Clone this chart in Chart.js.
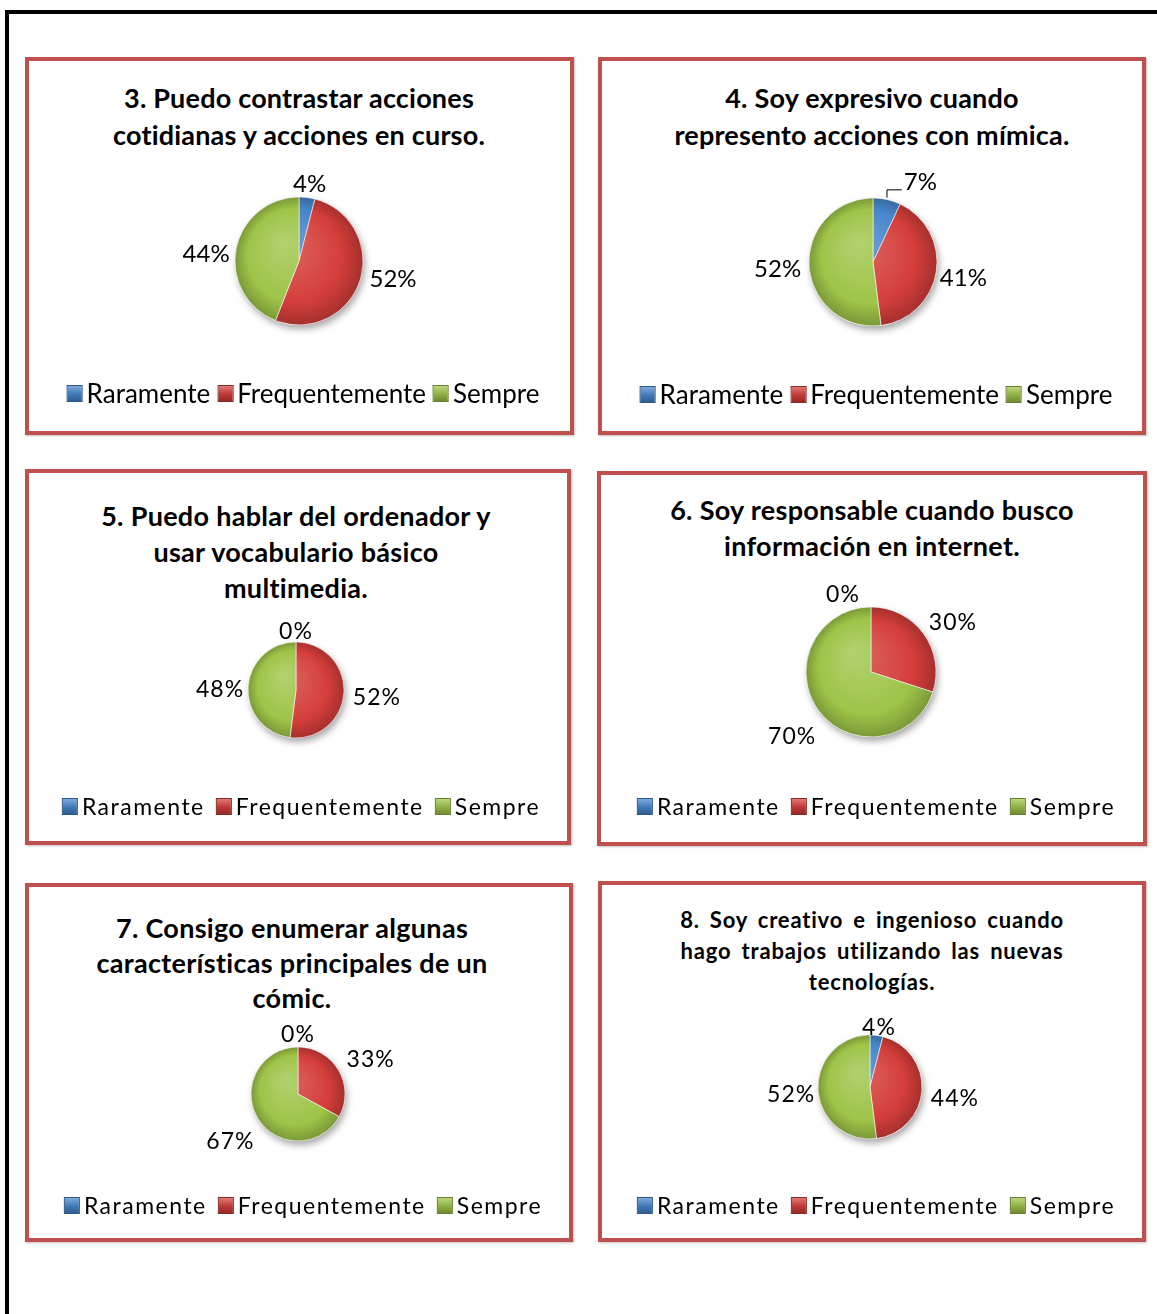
<!DOCTYPE html>
<html lang="es">
<head>
<meta charset="utf-8">
<title>Autoevaluación</title>
<script src="https://cdn.jsdelivr.net/npm/chart.js@4.4.1/dist/chart.umd.min.js"></script>
<style>
html,body{margin:0;padding:0;background:#fff;}
body{width:1157px;height:1314px;position:relative;overflow:hidden;font-family:Lato,"Open Sans",sans-serif;color:#000;}
#frame{position:absolute;left:5px;top:10px;width:1170px;height:1330px;border-top:4px solid #000;border-left:4px solid #000;}
.panel{position:absolute;box-sizing:border-box;border:4px solid #c0504d;background:#fff;box-shadow:1px 1px 2px rgba(0,0,0,.25);}
.ttl{position:absolute;transform:translateX(-50%);white-space:nowrap;text-align:center;font-weight:700;}
.leg{position:absolute;transform:translateX(-50%);display:flex;align-items:center;white-space:nowrap;height:30px;}
.leg .item{display:flex;align-items:center;}
.leg .box{display:inline-block;width:16px;height:17px;margin-right:4px;box-sizing:border-box;}
canvas{position:absolute;}
</style>
</head>
<body>
<div id="frame"></div>
<script>
// ---- datos ----
const categories = ['Raramente', 'Frequentemente', 'Sempre'];

const title3 = ['3. Puedo contrastar acciones', 'cotidianas y acciones en curso.'];
const title4 = ['4. Soy expresivo cuando', 'represento acciones con mímica.'];
const title5 = ['5. Puedo hablar del ordenador y', 'usar vocabulario básico', 'multimedia.'];
const title6 = ['6. Soy responsable cuando busco', 'información en internet.'];
const title7 = ['7. Consigo enumerar algunas', 'características principales de un', 'cómic.'];
const title8 = ['8. Soy creativo e ingenioso cuando', 'hago trabajos utilizando las nuevas', 'tecnologías.'];

const values3 = [4, 52, 44];
const values4 = [7, 41, 52];
const values5 = [0, 52, 48];
const values6 = [0, 30, 70];
const values7 = [0, 33, 67];
const values8 = [4, 44, 52];

// colores base de las porciones (azul, rojo, verde)
const sliceColors = [[70, 134, 204], [212, 62, 58], [158, 196, 72]];

// ---- disposición de cada recuadro ----
// nudge: desplazamiento [dx, dy, línea guía] de la etiqueta de cada porción
const panels = [
  { titles: title3, values: values3, box: [25, 57, 574, 435],
    title: { x: 299, y: 97, lh: 37, size: 27, ls: 0.2, ws: 0 },
    pie: { x: 299, y: 261, r: 64 },
    labels: { size: 24, ls: 0, gap: 4, nudge: [null, [7, -6], [-3, 8]] },
    legend: { x: 303, y: 393, size: 26, ls: 0, gap: 7 } },
  { titles: title4, values: values4, box: [598, 57, 1146, 435],
    title: { x: 872, y: 97, lh: 37, size: 27, ls: 0.2, ws: 0 },
    pie: { x: 873, y: 262, r: 64 },
    labels: { size: 24, ls: 0, gap: 4, nudge: [[29, -5, true], [0, 4], [-4, 2]] },
    legend: { x: 876, y: 394, size: 26, ls: 0, gap: 7 } },
  { titles: title5, values: values5, box: [25, 469, 571, 845],
    title: { x: 296, y: 516, lh: 36, size: 27, ls: 0.3, ws: 0 },
    pie: { x: 296, y: 690, r: 48 },
    labels: { size: 23, ls: 1, gap: 2, nudge: [null, [7, 4], [-2, 3]] },
    legend: { x: 301, y: 806, size: 23, ls: 1.5, gap: 11 } },
  { titles: title6, values: values6, box: [597, 471, 1147, 846],
    title: { x: 872, y: 510, lh: 36, size: 27, ls: 0.3, ws: 0 },
    pie: { x: 871, y: 672, r: 65 },
    labels: { size: 23, ls: 1, gap: 6, nudge: [[-28, 2], [5, -3], [-2, 18]] },
    legend: { x: 876, y: 806, size: 23, ls: 1.5, gap: 11 } },
  { titles: title7, values: values7, box: [25, 883, 573, 1242],
    title: { x: 292, y: 927, lh: 35, size: 27, ls: 0.3, ws: 0 },
    pie: { x: 298, y: 1094, r: 47 },
    labels: { size: 23, ls: 1, gap: 4, nudge: [null, [8, -4], [-3, 17]] },
    legend: { x: 303, y: 1205, size: 23, ls: 1.5, gap: 11 } },
  { titles: title8, values: values8, box: [598, 881, 1146, 1242],
    title: { x: 872, y: 919, lh: 31, size: 22, ls: 0.8, ws: 4 },
    pie: { x: 870, y: 1087, r: 52 },
    labels: { size: 23, ls: 1, gap: 3, nudge: [[0, 4], [6, 8], [0, 4]] },
    legend: { x: 876, y: 1205, size: 23, ls: 1.5, gap: 11 } }
];

const PAD = 80;

function rgb(c, k){
  // k > 0 aclara, k < 0 oscurece
  const f = v => Math.round(k >= 0 ? v + (255 - v) * k : v * (1 + k));
  return 'rgb(' + f(c[0]) + ',' + f(c[1]) + ',' + f(c[2]) + ')';
}

// relleno con degradado radial para dar algo de volumen
function sliceFill(S, r){
  return function(ctx){
    const base = sliceColors[ctx.dataIndex % sliceColors.length];
    const g = ctx.chart.ctx.createRadialGradient(S / 2 - r * 0.25, S / 2 - r * 0.3, r * 0.05, S / 2, S / 2, r);
    g.addColorStop(0, rgb(base, 0.2));
    g.addColorStop(0.72, rgb(base, 0));
    g.addColorStop(1, rgb(base, -0.22));
    return g;
  };
}

// sombra suave bajo el pastel
const pieShadow = {
  id: 'pieShadow',
  beforeDatasetsDraw(chart){
    const arc = chart.getDatasetMeta(0).data[0];
    if(!arc) return;
    const ctx = chart.ctx;
    ctx.save();
    ctx.shadowColor = 'rgba(0,0,0,0.35)';
    ctx.shadowBlur = 7;
    ctx.shadowOffsetX = 2;
    ctx.shadowOffsetY = 4;
    ctx.fillStyle = '#fff';
    ctx.beginPath();
    ctx.arc(arc.x, arc.y, arc.outerRadius, 0, Math.PI * 2);
    ctx.fill();
    ctx.restore();
  }
};

// etiquetas de porcentaje fuera de cada porción
const sliceLabels = {
  id: 'sliceLabels',
  afterDatasetsDraw(chart, args, opts){
    const ctx = chart.ctx;
    const meta = chart.getDatasetMeta(0);
    const vals = chart.data.datasets[0].data;
    ctx.save();
    ctx.font = opts.size + 'px Lato, "Open Sans", sans-serif';
    if('letterSpacing' in ctx) ctx.letterSpacing = opts.ls + 'px';
    ctx.fillStyle = '#000';
    ctx.textAlign = 'center';
    ctx.textBaseline = 'middle';
    meta.data.forEach((arc, i) => {
      const p = arc.getProps(['x', 'y', 'startAngle', 'endAngle', 'outerRadius'], true);
      const mid = (p.startAngle + p.endAngle) / 2;
      const dx = Math.cos(mid), dy = Math.sin(mid);
      const txt = vals[i] + '%';
      const w = ctx.measureText(txt).width, h = opts.size * 0.75;
      const ax = p.x + dx * (p.outerRadius + opts.gap);
      const ay = p.y + dy * (p.outerRadius + opts.gap);
      let tx = ax + dx * w / 2, ty = ay + dy * h / 2;
      const n = opts.nudge[i];
      if(n){
        tx += n[0]; ty += n[1];
        if(n[2]){
          const ex = p.x + dx * p.outerRadius, ey = p.y + dy * p.outerRadius;
          ctx.strokeStyle = '#000';
          ctx.lineWidth = 1;
          ctx.beginPath();
          ctx.moveTo(ex, ey - 2);
          ctx.lineTo(ex, ty + 8);
          ctx.lineTo(tx - w / 2 - 2, ty + 8);
          ctx.stroke();
        }
      }
      ctx.fillText(txt, tx, ty);
    });
    ctx.restore();
  }
};

function addPanel(P){
  const [x0, y0, x1, y1] = P.box;
  const box = document.createElement('div');
  box.className = 'panel';
  Object.assign(box.style, { left: x0 + 'px', top: y0 + 'px', width: (x1 - x0) + 'px', height: (y1 - y0) + 'px' });
  document.body.appendChild(box);

  const t = document.createElement('div');
  t.className = 'ttl';
  t.innerHTML = P.titles.join('<br>');
  Object.assign(t.style, {
    left: P.title.x + 'px', top: (P.title.y - P.title.lh / 2) + 'px',
    fontSize: P.title.size + 'px', lineHeight: P.title.lh + 'px',
    letterSpacing: P.title.ls + 'px', wordSpacing: P.title.ws + 'px'
  });
  document.body.appendChild(t);

  const S = 2 * P.pie.r + 2 * PAD;
  const cv = document.createElement('canvas');
  cv.width = S; cv.height = S;
  Object.assign(cv.style, { left: (P.pie.x - S / 2) + 'px', top: (P.pie.y - S / 2) + 'px', width: S + 'px', height: S + 'px' });
  document.body.appendChild(cv);

  new Chart(cv.getContext('2d'), {
    type: 'pie',
    data: {
      labels: categories,
      datasets: [{
        data: P.values,
        radius: P.pie.r,
        backgroundColor: sliceFill(S, P.pie.r),
        borderColor: 'rgba(255,255,255,0.55)',
        borderWidth: 1
      }]
    },
    options: {
      responsive: false,
      animation: false,
      devicePixelRatio: 1,
      layout: { padding: 0 },
      plugins: {
        legend: { display: false },
        tooltip: { enabled: false },
        title: { display: false },
        sliceLabels: P.labels
      }
    },
    plugins: [pieShadow, sliceLabels]
  });

  // leyenda con los mismos colores de las porciones
  const lg = document.createElement('div');
  lg.className = 'leg';
  Object.assign(lg.style, { left: P.legend.x + 'px', top: (P.legend.y - 15) + 'px', fontSize: P.legend.size + 'px', letterSpacing: P.legend.ls + 'px' });
  categories.forEach((name, i) => {
    const it = document.createElement('span');
    it.className = 'item';
    if(i > 0) it.style.marginLeft = P.legend.gap + 'px';
    const b = document.createElement('span');
    b.className = 'box';
    const c = sliceColors[i];
    b.style.background = 'linear-gradient(180deg,' + rgb(c, 0.3) + ',' + rgb(c, -0.1) + ' 55%,' + rgb(c, -0.3) + ')';
    b.style.border = '1px solid ' + rgb(c, -0.35);
    const s = document.createElement('span');
    s.textContent = name;
    it.appendChild(b);
    it.appendChild(s);
    lg.appendChild(it);
  });
  document.body.appendChild(lg);
}

panels.forEach(addPanel);
</script>
</body>
</html>
